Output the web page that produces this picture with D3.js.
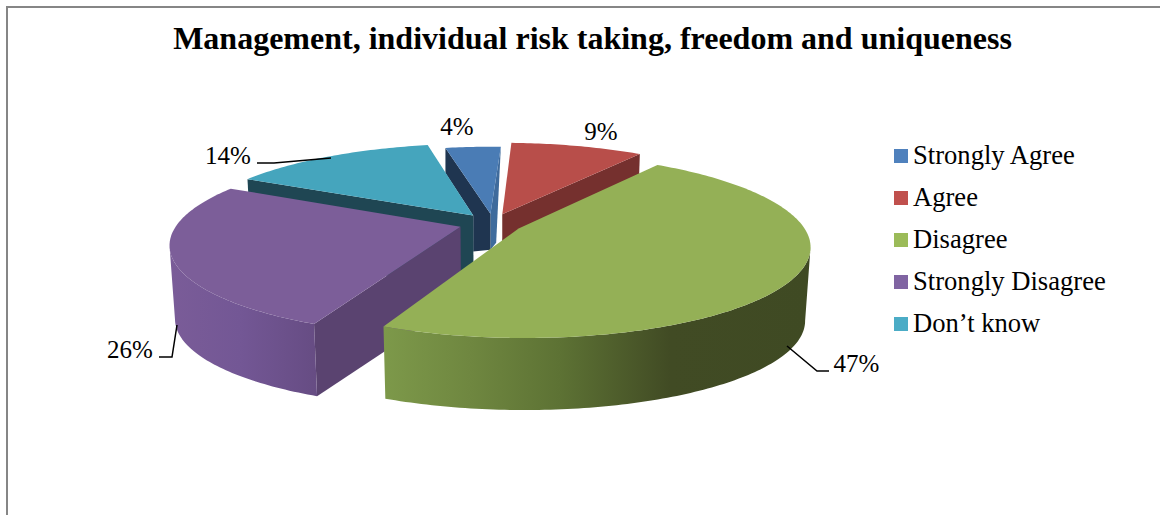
<!DOCTYPE html>
<html>
<head>
<meta charset="utf-8">
<script src="https://cdn.jsdelivr.net/npm/d3@7/dist/d3.min.js"></script>
<style>html,body{margin:0;padding:0;background:#fff;overflow:hidden}svg{display:block}text{font-family:"Liberation Serif","Times New Roman",serif;fill:#000}</style>
</head>
<body>
<svg id="c" width="1160" height="515"></svg>
<script>
const titleText = "Management, individual risk taking, freedom and uniqueness";
const categories = ["Strongly Agree", "Agree", "Disagree", "Strongly Disagree", "Don\u2019t know"];
const values = [4, 9, 47, 26, 14];
const labels = ["4%", "9%", "47%", "26%", "14%"];

const topColors  = ["#4a7cb5", "#b84e4a", "#94b056", "#7c5e99", "#45a5bd"];
const keyColors  = ["#4f81bd", "#c0504d", "#9bbb59", "#8064a2", "#4bacc6"];
const faceColors = ["#1f3550", "#75302e", "#3f4a23", "#5a4370", "#1f4653"];
const radiusScale = [0.93, 1, 1, 1, 1];
const nudgeX = [3, 2, 0, 1.5, 2.5];

// Chart geometry (projection of the tilted disc)
const geo = {cx: 490, cy: 223.5, A: 283, B: 87.5, p: 0.182, explode: 0.115,
             depth: 74, shrink: 0.983, rotation: -11.8 * Math.PI / 180};

const svg = d3.select("#c");
const defs = svg.append("defs");

function project(u, v, bottom, dx) {
  const w = 1 - geo.p * v;
  let x = geo.A * u / w, y = geo.B * v / w;
  if (bottom) { x *= geo.shrink; y = y * geo.shrink + geo.depth; }
  return [geo.cx + dx + x, geo.cy + y];
}

const arcs = d3.pie().sort(null).value(d => d)
  .startAngle(geo.rotation).endAngle(geo.rotation + 2 * Math.PI)(values);

function sliceGeom(a, i) {
  const mid = (a.startAngle + a.endAngle) / 2, r = radiusScale[i], dx = nudgeX[i];
  const ox = geo.explode * Math.sin(mid), oy = -geo.explode * Math.cos(mid);
  const at = (t, bottom) => project(ox + r * Math.sin(t), oy - r * Math.cos(t), bottom, dx);
  const apex = b => project(ox, oy, b, dx);
  const n = Math.max(4, Math.ceil((a.endAngle - a.startAngle) * 60));
  const ts = d3.range(n + 1).map(k => a.startAngle + (a.endAngle - a.startAngle) * k / n);
  return {mid, at, apex, ts};
}
const line = d3.line();

function wallGradient(id, stops) {
  const g = defs.append("linearGradient").attr("id", id)
    .attr("gradientUnits", "userSpaceOnUse")
    .attr("x1", stops[0][0]).attr("x2", stops[stops.length - 1][0]).attr("y1", 0).attr("y2", 0);
  const x0 = stops[0][0], x1 = stops[stops.length - 1][0];
  stops.forEach(s => g.append("stop").attr("offset", (s[0] - x0) / (x1 - x0)).attr("stop-color", s[1]));
}
wallGradient("wall2", [[383, "#7d994a"], [470, "#6f8740"], [560, "#5d7234"], [670, "#414b24"], [810, "#3f4a23"]]);
wallGradient("wall3", [[170, "#7a5c98"], [240, "#735795"], [318, "#664c83"]]);
const wallFill = {2: "url(#wall2)", 3: "url(#wall3)"};

function drawCutFace(g, s, t, other, fill) {
  const A = s.apex(false), R = s.at(t, false), M = s.at(other, false);
  const ex = R[0] - A[0], ey = R[1] - A[1];
  const inSide = ex * (M[1] - A[1]) - ey * (M[0] - A[0]);
  if (ex * inSide > 0) return;              // the face lies behind the slice's top
  g.append("path").attr("fill", fill)
    .attr("d", line([A, R, s.at(t, true), s.apex(true)]) + "Z");
}

// The small rear slice shows only a shallow part of its cut faces
function drawRearSliceFaces(g, s, a, neighbourApex) {
  const A = s.apex(false), L = s.at(a.startAngle, false), R = s.at(a.endAngle, false);
  const low = [A[0], A[1] + 36];
  g.append("path").attr("fill", "#3f6b9c")
    .attr("d", line([A, R, [low[0] + (R[0] - A[0]) * 0.55, low[1] - 7], low]) + "Z");
  g.append("path").attr("fill", faceColors[0])
    .attr("d", line([A, L, [L[0], L[1] + 25], neighbourApex,
                     [neighbourApex[0], neighbourApex[1] + 36], low]) + "Z");
}

// Painter's order: back slices first
[0, 4, 1, 3, 2].forEach(i => {
  const a = arcs[i], s = sliceGeom(a, i);
  const g = svg.append("g");
  if (i === 0) {
    drawRearSliceFaces(g, s, a, sliceGeom(arcs[4], 4).apex(false));
  } else {
    drawCutFace(g, s, a.startAngle, s.mid, faceColors[i]);
    drawCutFace(g, s, a.endAngle, s.mid, faceColors[i]);
  }

  // outer wall: only the parts of the rim that run right-to-left face the viewer
  const tops = s.ts.map(t => s.at(t, false));
  let run = [];
  const flush = () => {
    if (run.length > 1) {
      const up = run.map(t => s.at(t, false));
      const dn = run.map(t => s.at(t, true)).reverse();
      g.append("path").attr("fill", wallFill[i] || faceColors[i]).attr("d", line(up.concat(dn)) + "Z");
    }
    run = [];
  };
  s.ts.forEach((t, k) => {
    if (k < s.ts.length - 1 && tops[k + 1][0] < tops[k][0]) {
      if (!run.length) run.push(t);
      run.push(s.ts[k + 1]);
    } else if (k < s.ts.length - 1) flush();
  });
  flush();

  g.append("path").attr("fill", topColors[i])
    .attr("d", line([s.apex(false)].concat(tops)) + "Z");
});

// Frame
svg.append("path").attr("fill", "none").attr("stroke", "#868686").attr("stroke-width", 2)
  .attr("d", d3.line()([[7, 515], [7, 7], [1160, 7]]));

// Title
svg.append("text").attr("x", 592.5).attr("y", 49).attr("text-anchor", "middle")
  .attr("font-size", 32).attr("font-weight", "bold").text(titleText);

// Data labels and leaders
const labelPos = [[457, 135], [601, 140], [856.5, 372], [130, 358], [228, 164]];
labels.forEach((t, i) => svg.append("text").attr("x", labelPos[i][0]).attr("y", labelPos[i][1])
  .attr("text-anchor", "middle").attr("font-size", 25).text(t));
const leaders = [[[787, 346], [817, 371], [829, 371]], [[159, 357], [172, 357], [177, 325]], [[257, 163], [274, 163], [331, 158]]];
leaders.forEach(l => svg.append("path").attr("fill", "none").attr("stroke", "#000").attr("stroke-width", 1.5).attr("d", line(l)));

// Legend
const legend = svg.append("g").selectAll("g").data(categories).join("g")
  .attr("transform", (d, i) => `translate(894,${149 + i * 42})`);
legend.append("rect").attr("width", 14).attr("height", 14).attr("fill", (d, i) => keyColors[i]);
legend.append("text").attr("x", 19).attr("y", 15).attr("font-size", 26.6).text(d => d);
</script>
</body>
</html>
